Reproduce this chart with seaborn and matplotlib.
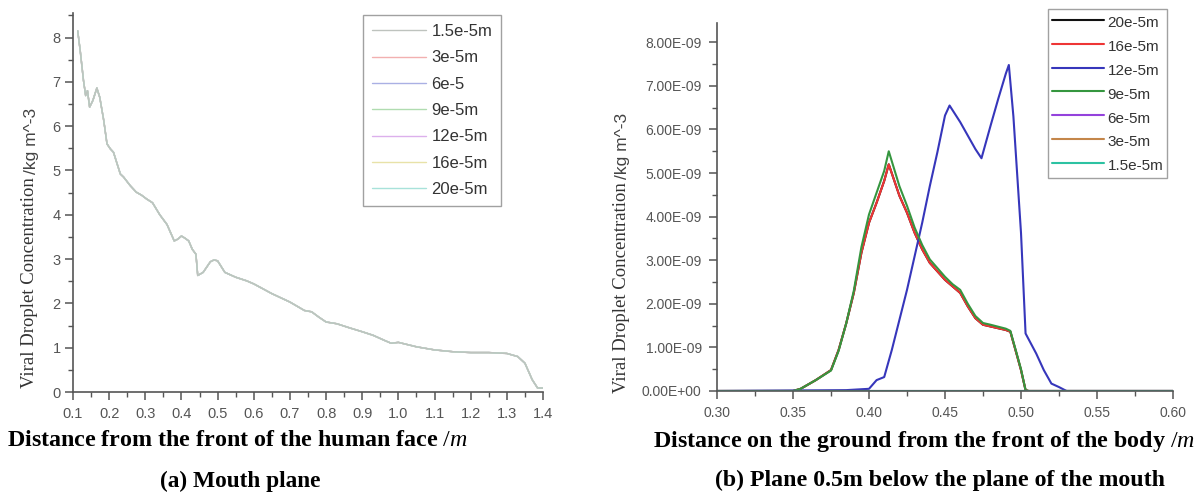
import numpy as np
import pandas as pd
import matplotlib
matplotlib.use("Agg")
import matplotlib.pyplot as plt
from matplotlib.ticker import MultipleLocator, FixedLocator, FuncFormatter
import seaborn as sns

# ---------------- data ----------------
# (a) mouth plane: all seven droplet sizes coincide
left_series = ["1.5e-5m", "3e-5m", "6e-5", "9e-5m", "12e-5m", "16e-5m", "20e-5m"]
left_colors = ["#bec3be", "#f2b0b0", "#aab0e4", "#b0dcb0", "#dcb0ec", "#e8e2a8", "#a8e2da"]
left_x = [0.113, 0.12, 0.129, 0.135, 0.14, 0.146, 0.155, 0.166, 0.174, 0.185, 0.194, 0.203,
          0.212, 0.222, 0.231, 0.24, 0.258, 0.275, 0.29, 0.303, 0.32, 0.34, 0.36, 0.38, 0.39,
          0.40, 0.41, 0.42, 0.43, 0.44, 0.445, 0.46, 0.48, 0.49, 0.50, 0.52, 0.55, 0.58, 0.60,
          0.65, 0.70, 0.74, 0.76, 0.78, 0.80, 0.83, 0.86, 0.90, 0.93, 0.96, 0.98, 1.00, 1.05,
          1.10, 1.15, 1.20, 1.25, 1.30, 1.33, 1.35, 1.37, 1.385, 1.40]
left_y = [8.15, 7.7, 7.03, 6.69, 6.8, 6.43, 6.58, 6.86, 6.65, 6.13, 5.6, 5.49,
          5.41, 5.15, 4.92, 4.85, 4.66, 4.51, 4.44, 4.36, 4.27, 4.0, 3.78, 3.41, 3.45,
          3.52, 3.47, 3.41, 3.22, 3.11, 2.63, 2.7, 2.94, 2.98, 2.96, 2.7, 2.59, 2.51, 2.44,
          2.22, 2.03, 1.84, 1.81, 1.69, 1.58, 1.54, 1.46, 1.36, 1.28, 1.17, 1.1, 1.12, 1.02,
          0.95, 0.91, 0.89, 0.89, 0.87, 0.8, 0.65, 0.28, 0.09, 0.09]
left_xticks = [0.1, 0.2, 0.3, 0.4, 0.5, 0.6, 0.7, 0.8, 0.9, 1.0, 1.1, 1.2, 1.3, 1.4]
left_yticks = [0, 1, 2, 3, 4, 5, 6, 7, 8]

# (b) plane 0.5 m below the mouth (values in 1e-9 kg m^-3)
right_series = ["20e-5m", "16e-5m", "12e-5m", "9e-5m", "6e-5m", "3e-5m", "1.5e-5m"]
right_colors = ["#111111", "#ee3535", "#3636bb", "#35963f", "#9442dc", "#c4864a", "#2cc2a2"]
big_x = [0.30, 0.35, 0.355, 0.365, 0.375, 0.38, 0.385, 0.39, 0.395, 0.40, 0.405, 0.41, 0.413,
         0.42, 0.425, 0.43, 0.435, 0.44, 0.45, 0.455, 0.46, 0.465, 0.47, 0.475, 0.48, 0.49,
         0.493, 0.497, 0.50, 0.503, 0.505, 0.60]
red_y = [0, 0, 0.05, 0.25, 0.48, 0.94, 1.55, 2.25, 3.17, 3.86, 4.32, 4.82, 5.2,
         4.48, 4.09, 3.63, 3.25, 2.94, 2.55, 2.4, 2.25, 1.94, 1.67, 1.52, 1.48, 1.4,
         1.36, 0.86, 0.48, 0.02, 0, 0]
green_y = [0, 0, 0.05, 0.25, 0.47, 0.92, 1.55, 2.3, 3.3, 4.05, 4.55, 5.05, 5.5,
           4.7, 4.25, 3.75, 3.35, 3.02, 2.62, 2.45, 2.32, 2.0, 1.72, 1.56, 1.52, 1.43,
           1.38, 0.88, 0.5, 0.02, 0, 0]
blue_x = [0.30, 0.385, 0.40, 0.405, 0.41, 0.415, 0.42, 0.425, 0.43, 0.435, 0.44, 0.445, 0.45,
          0.453, 0.46, 0.465, 0.47, 0.474, 0.48, 0.485, 0.49, 0.492, 0.495, 0.50, 0.503, 0.51,
          0.515, 0.52, 0.525, 0.53, 0.60]
blue_y = [0, 0.02, 0.05, 0.25, 0.32, 0.94, 1.63, 2.32, 3.09, 3.86, 4.7, 5.48, 6.32,
          6.55, 6.17, 5.86, 5.55, 5.34, 6.09, 6.7, 7.28, 7.48, 6.3, 3.63, 1.32, 0.86,
          0.48, 0.17, 0.09, 0, 0]
zero_x = [0.30, 0.60]
zero_y = [0, 0]
right_xticks = [0.30, 0.35, 0.40, 0.45, 0.50, 0.55, 0.60]
right_yticks = [0, 1, 2, 3, 4, 5, 6, 7, 8]  # x 1e-9

# ---------------- frames ----------------
left_df = pd.concat([pd.DataFrame({"x": left_x, "y": left_y, "size": s}) for s in left_series],
                    ignore_index=True)
right_parts = {
    "20e-5m": (big_x, red_y), "16e-5m": (big_x, red_y), "12e-5m": (blue_x, blue_y),
    "9e-5m": (big_x, green_y), "6e-5m": (zero_x, zero_y), "3e-5m": (zero_x, zero_y),
    "1.5e-5m": (zero_x, zero_y),
}
right_df = pd.concat([pd.DataFrame({"x": xs, "y": np.array(ys) * 1e-9, "size": s})
                      for s, (xs, ys) in right_parts.items()], ignore_index=True)

# ---------------- style ----------------
sns.set_theme(style="ticks")
plt.rcParams["font.family"] = ["Liberation Sans", "DejaVu Sans"]
plt.rcParams["mathtext.fontset"] = "custom"
plt.rcParams["mathtext.rm"] = "Liberation Serif"
plt.rcParams["mathtext.it"] = "Liberation Serif:italic"

W, H = 1200, 496
fig = plt.figure(figsize=(12, 4.96), dpi=100)
ax1 = fig.add_axes([73 / W, (H - 392) / H, 470 / W, 379.3 / H])
ax2 = fig.add_axes([717 / W, (H - 391) / H, 456 / W, 368.3 / H])

sns.lineplot(data=left_df, x="x", y="y", hue="size", hue_order=left_series,
             palette=left_colors, sort=False, estimator=None, linewidth=1.0, ax=ax1)
sns.lineplot(data=right_df, x="x", y="y", hue="size", hue_order=right_series,
             palette=right_colors, sort=False, estimator=None, linewidth=1.5, ax=ax2)

# put the grey curve (first drawn) on top in panel (a)
ax1.get_lines()[0].set_zorder(5)

axis_col = "#555555"
for ax in (ax1, ax2):
    for side in ("top", "right"):
        ax.spines[side].set_visible(False)
    for side in ("left", "bottom"):
        ax.spines[side].set_color(axis_col)
        ax.spines[side].set_linewidth(1.2)
    ax.tick_params(which="major", direction="out", length=6, width=1.1, color=axis_col,
                   labelcolor="#555555")
    ax.tick_params(which="minor", direction="out", length=3.5, width=1.0, color=axis_col)
    ax.set_xlabel("")
    ax.set_ylabel("")
    ax.grid(False)

ax1.set_xlim(0.1, 1.4)
ax1.set_ylim(0, 8.56)
ax1.xaxis.set_major_locator(FixedLocator(left_xticks))
ax1.xaxis.set_minor_locator(MultipleLocator(0.05))
ax1.yaxis.set_major_locator(FixedLocator(left_yticks))
ax1.yaxis.set_minor_locator(MultipleLocator(0.5))
ax1.xaxis.set_major_formatter(FuncFormatter(lambda v, p: f"{v:.1f}"))
ax1.yaxis.set_major_formatter(FuncFormatter(lambda v, p: f"{v:.0f}"))
ax1.tick_params(axis="both", which="major", labelsize=10.5)
ax1.tick_params(axis="x", pad=5)
ax1.tick_params(axis="y", pad=3)

ax2.set_xlim(0.30, 0.60)
ax2.set_ylim(0, 8.45e-9)
ax2.xaxis.set_major_locator(FixedLocator(right_xticks))
ax2.xaxis.set_minor_locator(MultipleLocator(0.025))
ax2.yaxis.set_major_locator(FixedLocator([v * 1e-9 for v in right_yticks]))
ax2.yaxis.set_minor_locator(MultipleLocator(0.5e-9))
ax2.xaxis.set_major_formatter(FuncFormatter(lambda v, p: f"{v:.2f}"))
ax2.yaxis.set_major_formatter(FuncFormatter(lambda v, p: f"{v:.2E}"))
ax2.tick_params(axis="both", which="major", labelsize=10)
ax2.tick_params(axis="x", pad=5)
ax2.tick_params(axis="y", pad=5)

# legends
h1, l1 = ax1.get_legend_handles_labels()
leg1 = ax1.legend(h1, l1, loc="upper left", bbox_to_anchor=(363 / W, (H - 15) / H),
                  bbox_transform=fig.transFigure, frameon=True, fancybox=False,
                  edgecolor="#8a8a8a", prop={"family": "Liberation Sans", "size": 12},
                  handlelength=3.23, handletextpad=0.34, borderpad=0.54, labelspacing=0.68,
                  borderaxespad=0)
leg1.get_frame().set_linewidth(1.0)
for t in leg1.get_texts():
    t.set_color("#333333")

h2, l2 = ax2.get_legend_handles_labels()
leg2 = ax2.legend(h2, l2, loc="upper left", bbox_to_anchor=(1047.7 / W, (H - 9) / H),
                  bbox_transform=fig.transFigure, frameon=True, fancybox=False,
                  edgecolor="#8a8a8a", prop={"family": "Liberation Sans", "size": 11},
                  handlelength=3.46, handletextpad=0.2, borderpad=0.25, labelspacing=0.34,
                  handleheight=1.5, borderaxespad=0)
leg2.get_frame().set_linewidth(1.0)
for t in leg2.get_texts():
    t.set_color("#333333")

# y labels (serif part + sans unit part)
def two_part_ylabel(x_px, ybot_px, serif_txt, sans_txt):
    t1 = fig.text(x_px / W, (H - ybot_px) / H, serif_txt, rotation=90, ha="center",
                  va="bottom", family="Liberation Serif", fontsize=13.5, color="#333333")
    fig.canvas.draw()
    bb = t1.get_window_extent()
    fig.text(x_px / W + 1.5 / W, (bb.y1 + 3) / H, sans_txt, rotation=90, ha="center",
             va="bottom", family="Liberation Sans", fontsize=12.5, color="#444444")

two_part_ylabel(30, 388, "Viral Droplet Concentration", "/kg m^-3")
two_part_ylabel(621, 393, "Viral Droplet Concentration", "/kg m^-3")

# x titles and captions
fig.text(237.5 / W, 1 - 440 / H, "Distance from the front of the human face $/m$",
         ha="center", va="center", family="Liberation Serif", fontweight="bold",
         fontsize=17.3, color="black")
fig.text(924 / W, 1 - 441 / H, "Distance on the ground from the front of the body $/m$",
         ha="center", va="center", family="Liberation Serif", fontweight="bold",
         fontsize=17.3, color="black")
fig.text(240 / W, 1 - 481 / H, "(a) Mouth plane", ha="center", va="center",
         family="Liberation Serif", fontweight="bold", fontsize=16.8, color="black")
fig.text(940 / W, 1 - 480 / H, "(b) Plane 0.5m below the plane of the mouth", ha="center",
         va="center", family="Liberation Serif", fontweight="bold", fontsize=17.2,
         color="black")

fig.savefig("out.png", dpi=100, facecolor="white")
